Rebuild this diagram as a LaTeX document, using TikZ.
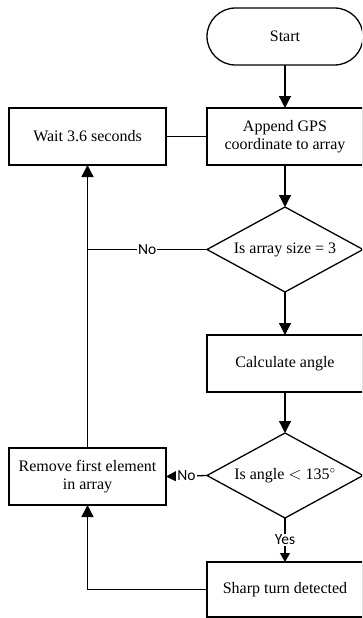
\documentclass[tikz,border=0pt]{standalone}
\usepackage{fontspec}
\setmainfont{Liberation Serif}
\newfontfamily\labelfont{Carlito}
\usetikzlibrary{shapes.geometric,arrows.meta}
\begin{document}
\begin{tikzpicture}[x=1pt,y=-1pt,
  every node/.style={outer sep=0pt},
  flow/.style={line width=1.3pt},
  arrow/.style={flow, -{Triangle[length=12pt,width=12pt]}},
  arrowsmall/.style={flow, -{Triangle[length=9pt,width=10pt]}},
  txt/.style={font=\fontsize{16}{18.5}\selectfont, align=center},
  proc/.style={draw, line width=1.3pt, txt, inner sep=2pt,
    minimum width=156pt, minimum height=57pt},
  term/.style={proc, rounded corners=28.5pt},
  decision/.style={draw, line width=1.3pt, txt, diamond, aspect=1.835,
    inner sep=0pt, minimum width=156pt, minimum height=85pt},
  lbl/.style={fill=white, inner sep=1pt, font=\labelfont\fontsize{15.5}{17}\selectfont}
]
\clip (0,0) rectangle (362,618);
\useasboundingbox (0,0) rectangle (362,618);

% right column: main flow
\node[term] (start) at (285,36.5) {Start};
\node[proc] (append) at (285,136.5) {Append GPS\\coordinate to array};
\node[decision] (size) at (285,249.5) {Is array size = 3};
\node[proc] (calc) at (285,363.5) {Calculate angle};
\node[decision] (angle) at (285,475.5) {Is angle $<$ 135$^\circ$};
\node[proc, minimum height=55pt] (sharp) at (285,589.5) {Sharp turn detected};

% left column: loop back
\node[proc, minimum width=157pt] (wait) at (87.5,136.5) {Wait 3.6 seconds};
\node[proc, minimum width=157pt] (remove) at (87.5,476.5) {Remove first element\\in array};
\coordinate (join) at (wait.south |- size.west);

% connectors
\draw[arrow] (start) -- (append);
\draw[flow] (wait) -- (append);
\draw[arrow] (append) -- (size);
\draw[arrow] (size) -- (calc);
\draw[arrow] (calc) -- (angle);
\draw[flow] (size.west) -- node[lbl] {No} (join);
\draw[arrow] (remove.north) -- (wait.south);
\draw[arrow] (angle.west) -- node[lbl] {No} (remove.east);
\draw[arrowsmall] (angle.south) -- node[lbl] {Yes} (sharp.north);
\draw[arrow] (sharp.west) -| (remove.south);
\end{tikzpicture}
\end{document}
